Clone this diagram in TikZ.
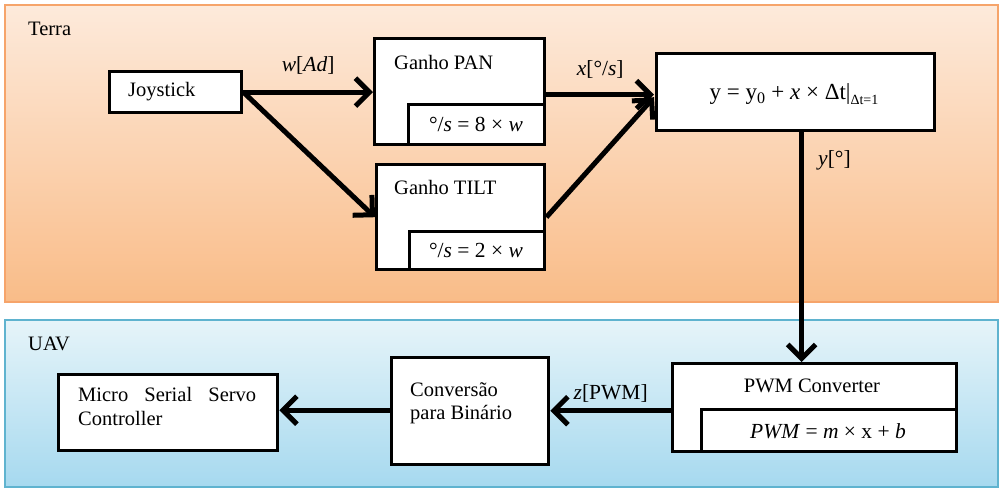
\documentclass[tikz,border=0pt]{standalone}
\usepackage{fontspec}
\setmainfont{Liberation Serif}
\usetikzlibrary{arrows.meta,calc}
\definecolor{terraTop}{HTML}{FDEADB}
\definecolor{terraBot}{HTML}{F9BC88}
\definecolor{terraLine}{HTML}{F6A46A}
\definecolor{uavTop}{HTML}{E6F4F9}
\definecolor{uavBot}{HTML}{A6D9EF}
\definecolor{uavLine}{HTML}{5FB3CF}
\tikzset{
  box/.style={draw=black, line width=3.4pt, fill=white, inner sep=0pt, anchor=north west},
  txt/.style={inner sep=0pt, font=\fontsize{20.5}{24}\selectfont},
  flow/.style={line width=5pt, -{Straight Barb[length=14pt,width=28pt,line width=5pt]}},
  lbl/.style={inner sep=0pt, font=\fontsize{21.5}{24}\selectfont},
}
\begin{document}
\begin{tikzpicture}[x=1pt,y=-1pt]
\useasboundingbox (0,0) rectangle (1001,489);
% panels
\shade[top color=terraTop, bottom color=terraBot, draw=terraLine, line width=1.8pt] (5,5) rectangle (998,302);
\shade[top color=uavTop, bottom color=uavBot, draw=uavLine, line width=1.8pt] (5,320) rectangle (998,487);
\node[txt, anchor=west] (terra) at (28,29) {Terra};
\node[txt, anchor=west] (uav) at (28,344) {UAV};
% Terra boxes
\node[box, minimum width=132, minimum height=41] (joy) at (108,70) {};
\node[txt, anchor=west] (joyt) at (128,92) {Joystick};
\node[box, minimum width=170, minimum height=106] (pan) at (373,37) {};
\node[box, minimum width=136, minimum height=40] (panf) at (407,103) {};
\node[txt, anchor=west] (pant) at (394,62) {Ganho PAN};
\node[lbl] (panft) at (476,124) {°/\textit{s} = 8 × \textit{w}};
\node[box, minimum width=168, minimum height=105] (tilt) at (375,163) {};
\node[box, minimum width=135, minimum height=38] (tiltf) at (408,230) {};
\node[txt, anchor=west] (tiltt) at (394,187) {Ganho TILT};
\node[lbl] (tiltft) at (476,250) {°/\textit{s} = 2 × \textit{w}};
\node[box, minimum width=278, minimum height=77] (ybox) at (655,52) {};
\node[txt, font=\fontsize{23}{26}\selectfont] (yt) at (794,94) {y = y\textsubscript{0} + \textit{x} × Δt|\raisebox{-0.5ex}{\fontsize{14}{16}\selectfont Δt=1}};
% UAV boxes
\node[box, minimum width=219, minimum height=76] (micro) at (57,373) {};
\node[txt, anchor=north west, text width=178, align=justify] (microt) at (78,387) {Micro\hfill Serial\hfill Servo\\ Controller};
\node[box, minimum width=157, minimum height=107] (conv) at (390,356) {};
\node[txt, anchor=north west, align=left] (convt) at (410,382) {Conversão\\[-1pt] para Binário};
\node[box, minimum width=284, minimum height=88] (pwm) at (671,362) {};
\node[box, minimum width=255, minimum height=42] (pwmf) at (700,408) {};
\node[txt] (pwmt) at (812,386) {PWM Converter};
\node[lbl] (pwmft) at (828,431) {\textit{PWM} = \textit{m} × x + \textit{b}};
% connectors
\draw[flow] (joy.east) -- (joy.east -| pan.west) node[lbl, midway, above=15pt] (lw) {\textit{w}[\textit{Ad}]};
\draw[flow] (joy.east) -- (tilt.west);
\draw[flow] ($(pan.east)+(0,3)$) -- ($(pan.east -| ybox.west)+(-1,3)$) node[lbl, midway, above=14pt] (lx) {\textit{x}[°/\textit{s}]};
\draw[flow] (tilt.east) -- ($(ybox.west)+(-1,5)$);
\draw[flow] ($(ybox.south)+(6,0)$) -- ($(ybox.south |- pwm.north)+(6,0)$) node[lbl, pos=0.12, right=14pt] (ly) {\textit{y}[°]};
\draw[flow] ($(pwm.west)+(0,3)$) -- ($(pwm.west -| conv.east)+(0,3)$) node[lbl, midway, above=6pt] (lz) {\textit{z}[PWM]};
\draw[flow] ($(conv.west)+(0,-1)$) -- ($(conv.west -| micro.east)+(0,-1)$);
\end{tikzpicture}
\end{document}
